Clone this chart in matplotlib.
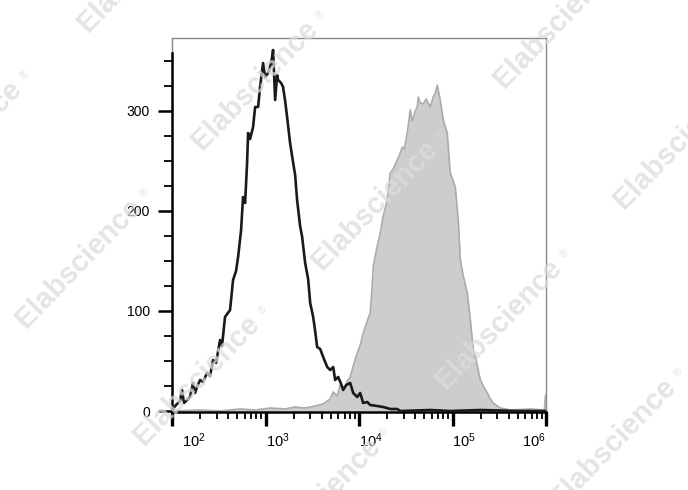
import matplotlib.pyplot as plt
import matplotlib.transforms as mtransforms
import numpy as np

plt.rcParams['font.family'] = ['Liberation Sans', 'DejaVu Sans']
plt.rcParams['mathtext.fontset'] = 'custom'
plt.rcParams['mathtext.rm'] = 'Liberation Sans'
plt.rcParams['mathtext.it'] = 'Liberation Sans:italic'

# isotype / unstained control (black outline), x given as log10 of intensity
black_log = [2.000, 2.043, 2.086, 2.107, 2.128, 2.161, 2.193, 2.225, 2.246, 2.268,
             2.300, 2.332, 2.375, 2.407, 2.439, 2.471, 2.514, 2.535, 2.567, 2.621,
             2.653, 2.685, 2.707, 2.739, 2.760, 2.782, 2.803, 2.814, 2.835, 2.867,
             2.889, 2.921, 2.942, 2.974, 2.996, 3.028, 3.049, 3.071, 3.081, 3.103,
             3.124, 3.135, 3.167, 3.188, 3.210, 3.231, 3.263, 3.296, 3.317, 3.338,
             3.370, 3.392, 3.424, 3.456, 3.478, 3.510, 3.531, 3.552, 3.585, 3.617,
             3.660, 3.692, 3.724, 3.745, 3.777, 3.809, 3.831, 3.863, 3.906, 3.938,
             3.981, 4.013, 4.045, 4.088, 4.120, 4.195, 4.259, 4.334, 4.409, 4.441,
             4.762, 4.976, 5.298, 5.726, 6.000]
black_count = [1, 6, 10, 21, 8, 11, 14, 28, 18, 24,
               31, 29, 38, 35, 51, 48, 71, 65, 94, 101,
               131, 140, 154, 181, 214, 208, 248, 278, 272, 284,
               304, 304, 324, 348, 334, 338, 344, 354, 361, 311,
               336, 331, 328, 324, 310, 294, 268, 248, 236, 211,
               185, 174, 148, 132, 108, 94, 80, 64, 62, 54,
               44, 41, 44, 31, 34, 27, 21, 26, 28, 18,
               14, 18, 8, 9, 6, 5, 4, 2, 2, 0,
               1, 0, 1, 0, 0]

# stained sample (grey filled)
gray_log = [2.000, 2.300, 2.514, 2.728, 2.889, 3.049, 3.210, 3.317, 3.424, 3.531,
            3.617, 3.692, 3.724, 3.767, 3.799, 3.842, 3.874, 3.906, 3.938, 3.981,
            4.013, 4.045, 4.088, 4.120, 4.141, 4.152, 4.184, 4.227, 4.259, 4.302,
            4.334, 4.366, 4.409, 4.441, 4.463, 4.484, 4.516, 4.548, 4.570, 4.602,
            4.623, 4.634, 4.655, 4.687, 4.719, 4.762, 4.794, 4.816, 4.837, 4.869,
            4.901, 4.944, 4.976, 5.009, 5.030, 5.062, 5.084, 5.116, 5.158, 5.191,
            5.223, 5.255, 5.298, 5.330, 5.373, 5.405, 5.437, 5.480, 5.512, 5.619,
            5.833, 5.983, 5.994, 6.000]
gray_count = [0, 1, 0, 2, 1, 3, 2, 4, 3, 5,
              7, 12, 19, 15, 26, 22, 30, 34, 45, 58,
              66, 78, 90, 98, 125, 144, 160, 178, 195, 211,
              238, 242, 251, 258, 264, 262, 278, 301, 290, 300,
              304, 314, 308, 307, 312, 304, 314, 318, 326, 311,
              291, 278, 238, 230, 224, 190, 151, 135, 118, 91,
              61, 50, 31, 25, 18, 12, 8, 5, 3, 1,
              2, 1, 15, 16]

y_ticks = [0, 100, 200, 300]
y_minor = [25, 50, 75, 125, 150, 175, 225, 250, 275, 325, 350]
x_decades = [2, 3, 4, 5, 6]

# watermark centres in pixels (x right, y down)
watermark_px = [(141, -33), (255, 85), (375, 205), (499, 324), (613, 443),
                (-41, 145), (79, 263), (197, 380), (318, 502),
                (557, 23), (677, 144)]

W, H = 688, 490
fig = plt.figure(figsize=(W / 100, H / 100), dpi=100)
ax = fig.add_axes([172 / W, 1 - 412 / H, (546 - 172) / W, (412 - 38) / H])

gx = 10 ** np.array(gray_log)
bx = 10 ** np.array(black_log)
ax.fill_between(gx, gray_count, 0, color='#cdcdcd', linewidth=0, zorder=1)
ax.plot(gx, gray_count, color='#ababab', lw=1.2, zorder=2)
ax.plot(bx, black_count, color='#1a1a1a', lw=1.9, zorder=3)

ax.set_xscale('log')
ax.set_xlim(1e2, 1e6)
ax.set_ylim(-1, 373)

# axes frame: black axis lines, thin grey box elsewhere
for side in ['top', 'right']:
    ax.spines[side].set_color('#888888')
    ax.spines[side].set_linewidth(1.0)
ax.spines['left'].set_linewidth(1.8)
ax.spines['bottom'].set_linewidth(1.8)
ax.spines['left'].set_bounds(-1, 358)
ax.axvline(1e2, ymin=(358 + 1) / 374, ymax=1, color='#888888', lw=1.0, clip_on=False)

ax.set_yticks(y_ticks)
ax.set_yticks(y_minor, minor=True)
ax.set_yticklabels([str(v) for v in y_ticks])
ax.set_xticks([10.0 ** d for d in x_decades])
ax.set_xticklabels([r'$10^{%d}$' % d for d in x_decades])
ax.xaxis.set_minor_locator(plt.matplotlib.ticker.LogLocator(base=10, subs=np.arange(2, 10)))
ax.xaxis.set_minor_formatter(plt.NullFormatter())

ax.tick_params(axis='x', which='major', length=10, width=2.4, pad=4, labelsize=10.5)
ax.tick_params(axis='x', which='minor', length=5, width=1.3)
ax.tick_params(axis='y', which='major', length=10, width=1.8, pad=6, labelsize=10)
ax.tick_params(axis='y', which='minor', length=6, width=1.3)

# FlowJo-style label placement
labels = ax.get_xticklabels()
for lab in labels[:-1]:
    lab.set_horizontalalignment('left')
labels[-1].set_horizontalalignment('right')
labels[0].set_transform(labels[0].get_transform() +
                        mtransforms.ScaledTranslation(0.1, 0, fig.dpi_scale_trans))

# watermark
for px, py in watermark_px:
    fig.text(px / W, 1 - py / H, 'Elabscience', rotation=46, fontsize=21,
             fontweight='bold', color='#dcdcdc', alpha=0.75,
             ha='center', va='center', rotation_mode='anchor', zorder=10)
    fig.text((px + 66) / W, 1 - (py - 70) / H, '®', rotation=46, fontsize=8,
             color='#dcdcdc', alpha=0.75, ha='center', va='center', zorder=10)

fig.savefig('out.png', dpi=100)
